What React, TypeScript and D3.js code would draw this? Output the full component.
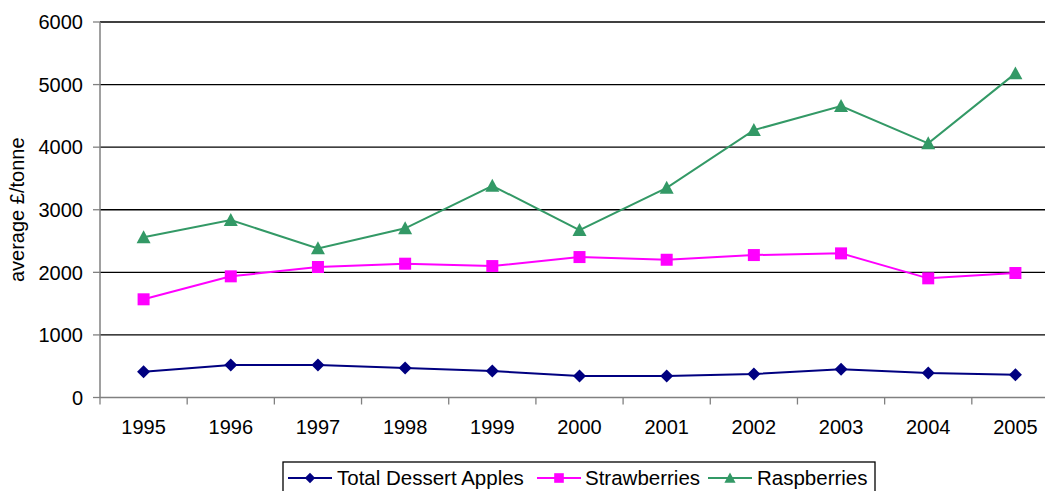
import React from "react";
import * as d3 from "d3";

const years = ["1995", "1996", "1997", "1998", "1999", "2000", "2001", "2002", "2003", "2004", "2005"];
const apples = [412, 519, 519, 471, 423, 343, 343, 375, 450, 391, 364];
const strawberries = [1569, 1936, 2085, 2138, 2100, 2244, 2201, 2276, 2303, 1904, 1989];
const raspberries = [2560, 2835, 2383, 2703, 3383, 2676, 3351, 4273, 4657, 4061, 5179];
const yTicks = [0, 1000, 2000, 3000, 4000, 5000, 6000];
const seriesNames = ["Total Dessert Apples", "Strawberries", "Raspberries"];

const W = 1045, H = 491;
const left = 100, top = 22, bottom = 397.5, plotRight = 1059;
const FONT = "'Liberation Sans', Arial, sans-serif";

const series = [
  { name: seriesNames[0], values: apples, color: "#000080", marker: "diamond" },
  { name: seriesNames[1], values: strawberries, color: "#FF00FF", marker: "square" },
  { name: seriesNames[2], values: raspberries, color: "#339966", marker: "triangle" },
];

function Marker({ type, x, y, color, k = 1 }: { type: string; x: number; y: number; color: string; k?: number }) {
  if (type === "diamond") {
    const s = 6.5 * k;
    return <path d={`M${x},${y - s}L${x + s},${y}L${x},${y + s}L${x - s},${y}Z`} fill={color} />;
  }
  if (type === "square") {
    const s = 6 * k;
    return <rect x={x - s} y={y - s} width={2 * s} height={2 * s} fill={color} />;
  }
  const s = 7 * k;
  return <path d={`M${x},${y - s}L${x + s},${y + s * 0.85}L${x - s},${y + s * 0.85}Z`} fill={color} />;
}

export default function App() {
  const x = d3.scaleBand<string>().domain(years).range([left, plotRight]);
  const y = d3.scaleLinear().domain([0, 6000]).range([bottom, top]);
  const line = d3
    .line<number>()
    .x((_, i) => (x(years[i]) as number) + x.bandwidth() / 2)
    .y((d) => y(d));

  const legendItems = [
    { lx: 288, tx: 337 },
    { lx: 537, tx: 585 },
    { lx: 708, tx: 757 },
  ];

  return (
    <svg
      width={W}
      height={H}
      style={{ position: "absolute", left: 0, top: 0, display: "block", background: "#fff" }}
      fontFamily={FONT}
    >
      {yTicks.filter((t) => t > 0).map((t) => (
        <line key={t} x1={left} x2={plotRight} y1={y(t)} y2={y(t)} stroke="#000" strokeWidth={1.3} />
      ))}
      <line x1={left} x2={left} y1={top} y2={bottom} stroke="#808080" strokeWidth={1.5} />
      <line x1={left} x2={plotRight} y1={bottom} y2={bottom} stroke="#808080" strokeWidth={1.5} />
      {yTicks.map((t) => (
        <g key={t}>
          <line x1={left - 7} x2={left} y1={y(t)} y2={y(t)} stroke="#808080" strokeWidth={1.3} />
          <text x={83} y={y(t)} dy="0.36em" textAnchor="end" fontSize={20} fill="#000">
            {t}
          </text>
        </g>
      ))}
      {years.map((yr) => (
        <line
          key={"t" + yr}
          x1={x(yr) as number}
          x2={x(yr) as number}
          y1={bottom}
          y2={bottom + 7}
          stroke="#808080"
          strokeWidth={1.3}
        />
      ))}
      {years.map((yr) => (
        <text
          key={yr}
          x={(x(yr) as number) + x.bandwidth() / 2}
          y={434}
          textAnchor="middle"
          fontSize={20}
          fill="#000"
        >
          {yr}
        </text>
      ))}
      <text
        transform={`translate(24,${(top + bottom) / 2}) rotate(-90)`}
        textAnchor="middle"
        fontSize={20}
        fill="#000"
      >
        average £/tonne
      </text>
      {series.map((s) => (
        <g key={s.name}>
          <path d={line(s.values) as string} fill="none" stroke={s.color} strokeWidth={2} />
          {s.values.map((v, i) => (
            <Marker
              key={i}
              type={s.marker}
              x={(x(years[i]) as number) + x.bandwidth() / 2}
              y={y(v)}
              color={s.color}
            />
          ))}
        </g>
      ))}
      <rect x={283} y={462} width={592} height={40} fill="#fff" stroke="#000" strokeWidth={1.3} />
      {series.map((s, i) => {
        const it = legendItems[i];
        return (
          <g key={"lg" + s.name}>
            <line x1={it.lx} x2={it.lx + 44} y1={478} y2={478} stroke={s.color} strokeWidth={2} />
            <Marker type={s.marker} x={it.lx + 22} y={478} color={s.color} k={0.8} />
            <text x={it.tx} y={485} fontSize={20.5} fill="#000">
              {s.name}
            </text>
          </g>
        );
      })}
    </svg>
  );
}
